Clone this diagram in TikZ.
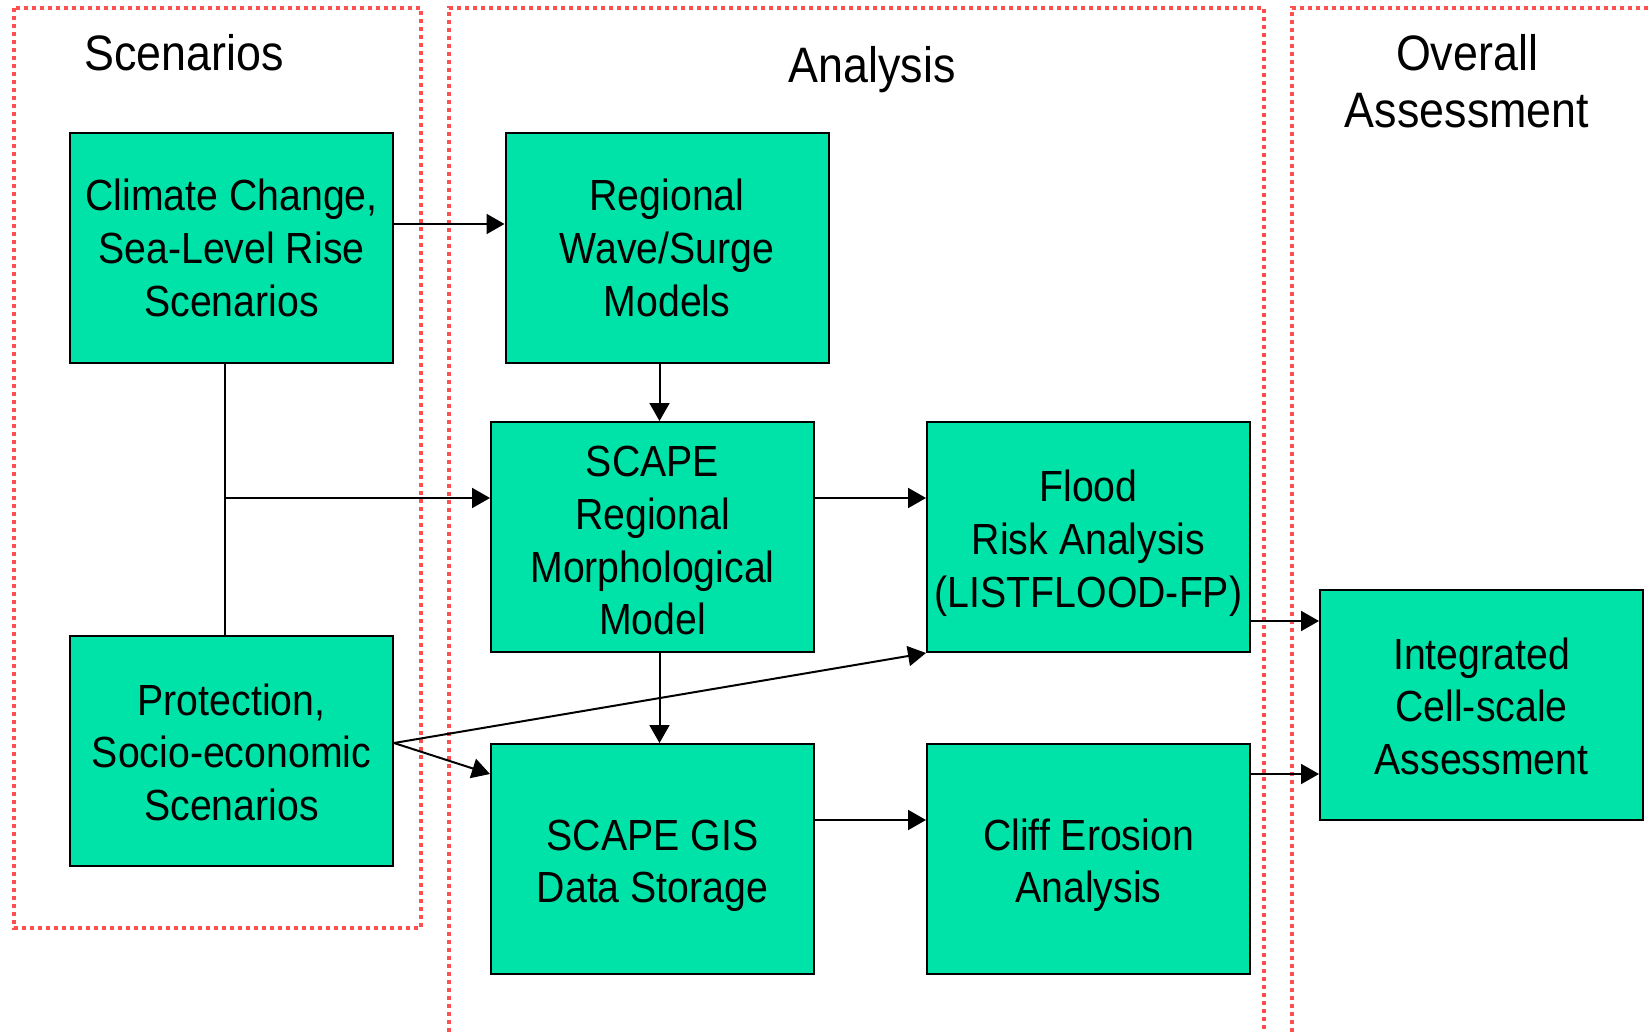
\documentclass[tikz,border=0pt]{standalone}
\usepackage{fontspec}
\setmainfont{Liberation Sans}[FakeStretch=0.9]
\usetikzlibrary{arrows.meta,calc}
\definecolor{boxgreen}{RGB}{0,227,168}
\definecolor{framered}{RGB}{255,80,80}
\newcommand\lowr{\rule{0pt}{22pt}}
\begin{document}
\begin{tikzpicture}[x=0.5pt,y=-0.5pt,line width=1pt,
      >={Triangle[length=9pt,width=10pt]},
      blk/.style={draw=black,fill=boxgreen,minimum width=161.5pt,minimum height=115pt,
         inner sep=0pt,align=center,font=\fontsize{21.8}{26.35}\selectfont},
      head/.style={align=center,font=\fontsize{24.9}{28.5}\selectfont},
      frame/.style={draw=framered,line width=1.75pt,dash pattern=on 2pt off 2pt}]
      \useasboundingbox (0,0) rectangle (1652,1032);
      % column frames
      \draw[frame](14,8)rectangle(421,928);
      \draw[frame](449,1040)--(449,8)--(1264,8)--(1264,1040);
      \draw[frame](1292,1040)--(1292,8)--(1660,8);
      \node[head](hscen) at (184,53){Scenarios};
      \node[head](hana) at (872,70){Analysis};
      \node[head](hover) at (1467,81){Overall\\Assessment};
      % boxes
      \node[blk](clim) at (231.5,248){Climate Change,\\Sea-Level Rise\\Scenarios};
      \node[blk](prot) at (231.5,751){\rule{0pt}{17pt}Protection,\\Socio-economic\\Scenarios};
      \node[blk](wave) at (667,248){Regional\\Wave/Surge\\Models};
      \node[blk](scape) at (652.5,537){\rule{0pt}{19pt}SCAPE\\Regional\\Morphological\\Model};
      \node[blk](gis) at (652.5,859){\lowr SCAPE GIS\\Data Storage};
      \node[blk](flood) at (1088.5,537){\lowr Flood\\Risk Analysis\\(LISTFLOOD-FP)};
      \node[blk](cliff) at (1088.5,859){\lowr Cliff Erosion\\Analysis};
      \node[blk](integ) at (1481.5,705){\rule{0pt}{17pt}Integrated\\Cell-scale\\Assessment};
      % connectors
      \draw[->]([yshift=12pt]clim.east)--([yshift=12pt]wave.west);
      \draw[->]([xshift=-3.75pt]wave.south)--([xshift=3.5pt]scape.north);
      \draw([xshift=-3.25pt]clim.south)coordinate(cl)--(cl|-prot.north);
      \coordinate(sw) at ([yshift=19.5pt]scape.west);
      \draw[->](cl|-sw)--(sw);
      \draw[->]([yshift=19.5pt]scape.east)--([yshift=19.5pt]flood.west);
      \draw[->]([xshift=3.5pt]scape.south)--([xshift=3.5pt]gis.north);
      \draw[->]([yshift=19.5pt]gis.east)--([yshift=19.5pt]cliff.west);
      \coordinate(pe) at ([yshift=4pt]prot.east);
      \draw[->](pe)--([yshift=42.5pt]gis.west);
      \draw[->](pe)--(flood.south west);
      \coordinate(fi) at ([yshift=-42pt]flood.east);
      \draw[->](fi)--(fi-|integ.west);
      \coordinate(ci) at ([yshift=42.5pt]cliff.east);
      \draw[->](ci)--(ci-|integ.west);
\end{tikzpicture}
\end{document}
